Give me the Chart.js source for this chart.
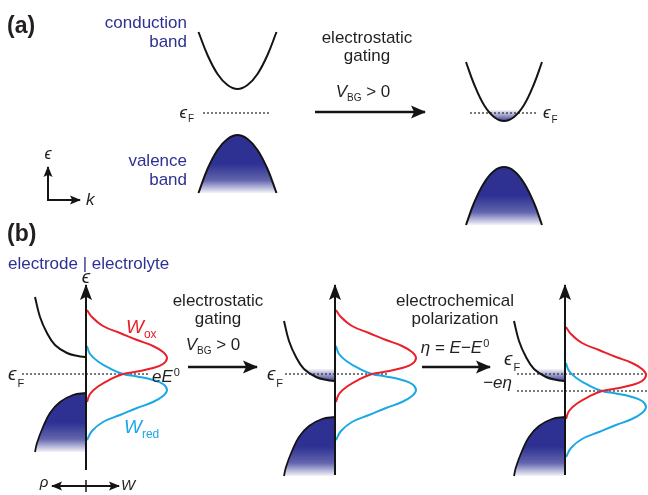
<!DOCTYPE html>
<html>
<head>
<meta charset="utf-8">
<style>
  html, body { margin: 0; padding: 0; background: #fff; }
  canvas { display: block; }
</style>
<script src="https://cdn.jsdelivr.net/npm/chart.js@4/dist/chart.umd.min.js"></script>
</head>
<body>
<canvas id="c" width="648" height="495"></canvas>
<script>
// ---------- Panel (a): band dispersions, energy measured from the Fermi level ----------
const kBand1 = [-3.9, -3, -2, -1, 0, 1, 2, 3, 3.9];
const cbUngated = [8.1, 5.8, 3.9, 2.8, 2.4, 2.8, 3.9, 5.8, 8.1];
const vbUngated = [-8.0, -5.6, -3.7, -2.6, -2.2, -2.6, -3.7, -5.6, -8.0];
const kBand2 = [-3.8, -3, -2, -1, 0, 1, 2, 3, 3.8];
const cbGated = [5.1, 2.9, 0.8, -0.4, -0.8, -0.4, 0.8, 2.9, 5.1];
const vbGated = [-11.2, -9.0, -7.0, -5.8, -5.4, -5.8, -7.0, -9.0, -11.2];
const kOccupied = [-1.65, -1.2, -0.6, 0, 0.6, 1.2, 1.65];
const cbOccupied = [0.3, -0.2, -0.65, -0.8, -0.65, -0.2, 0.3];
const kFermi1 = [-3.45, 3.35];
const kFermi2 = [-3.4, 3.3];

// ---------- Panel (b): electrode density of states (rho < 0) and redox distributions (W > 0) ----------
const rhoCB = [-5.1, -4.6, -3.9, -3.1, -1.9, -0.8, 0];
const cbEdgeOpen = [7.7, 5.7, 4.1, 2.9, 2.1, 1.8, 1.7];
const cbEdgeGated = [5.3, 3.3, 1.7, 0.5, -0.3, -0.6, -0.7];
const rhoVB = [0, -1.3, -2.6, -3.6, -4.3, -4.9, -5.1];
const vbEdgeOpen = [-1.9, -2.1, -2.8, -3.9, -5.3, -6.9, -7.8];
const vbEdgeGated = [-4.3, -4.5, -5.2, -6.3, -7.7, -9.3, -10.2];
const rhoFilled = [-3.1, -1.9, -0.8, 0];
const cbFilled = [0.5, -0.3, -0.6, -0.7];

const wOx = [0.1, 0.6, 1.7, 3.4, 5.1, 6.7, 7.7, 8.1, 7.7, 6.7, 5.1, 3.7, 2.4, 1.2, 0.4, 0.1];
const eOx = [6.4, 5.7, 4.8, 4.1, 3.4, 2.8, 2.2, 1.6, 1.0, 0.6, 0.25, 0, -0.55, -1.25, -2.0, -2.8];
const eOxPolarized = [4.7, 4.0, 3.1, 2.4, 1.7, 1.1, 0.5, -0.1, -0.7, -1.1, -1.45, -1.7, -2.25, -2.95, -3.7, -4.5];
const wRed = [0.1, 0.4, 1.2, 2.4, 3.7, 5.1, 6.7, 7.7, 8.1, 7.7, 6.7, 5.1, 3.4, 1.7, 0.6, 0.1];
const eRed = [2.8, 2.0, 1.25, 0.55, 0, -0.25, -0.6, -1.0, -1.6, -2.2, -2.8, -3.4, -4.1, -4.8, -5.7, -6.6];
const eRedPolarized = [1.1, 0.3, -0.45, -1.15, -1.7, -1.95, -2.3, -2.7, -3.3, -3.9, -4.5, -5.1, -5.8, -6.5, -7.4, -8.3];
const eFermiLine = [0, 0];
const eShiftedLine = [-1.7, -1.7];

// ---------- styling ----------
const NAVY = '#2e3192', RED = '#e8202a', BLUE = '#1ba7e6', INK = '#141414', TEXT = '#231f20';
const FONT = '"Liberation Sans", Arial, "DejaVu Sans", sans-serif';

const zip = (xs, ys) => xs.map((x, i) => ({ x, y: ys[i] }));

function vGradient(yId, top, bottom, stops) {
  return (c) => {
    const chart = c.chart, sc = chart.scales[yId];
    if (!chart.chartArea || !sc) return NAVY;
    const g = chart.ctx.createLinearGradient(0, sc.getPixelForValue(top), 0, sc.getPixelForValue(bottom));
    stops.forEach(([o, col]) => g.addColorStop(o, col));
    return g;
  };
}
const bandStops = [[0, NAVY], [0.5, NAVY], [0.78, 'rgba(46,49,146,0.75)'], [1, 'rgba(46,49,146,0.06)']];
const occStops = [[0, 'rgba(46,49,146,0.05)'], [1, 'rgba(46,49,146,0.9)']];

function line(xId, yId, xs, ys, extra) {
  return Object.assign({
    xAxisID: xId, yAxisID: yId, data: zip(xs, ys), showLine: true,
    pointRadius: 0, borderColor: INK, borderWidth: 2, tension: 0.4, fill: false, order: 1
  }, extra || {});
}
const dotted = { borderWidth: 1.3, borderDash: [2, 2], borderColor: '#333', tension: 0, order: 2 };
const axisLine = (heads, L, W, width) => ({ tension: 0, order: 0, heads, headLength: L, headWidth: W, borderWidth: width, borderJoinStyle: 'miter' });

const datasets = [
  // panel (a), before gating
  line('xa1', 'ya', kBand1, cbUngated),
  line('xa1', 'ya', kBand1, vbUngated, { fill: { value: -8.0 }, backgroundColor: vGradient('ya', -2.2, -8.0, bandStops) }),
  line('xa1', 'ya', kFermi1, eFermiLine, dotted),
  // panel (a), after gating
  line('xa2', 'ya', kOccupied, cbOccupied, { borderWidth: 0, fill: { value: 0.3 }, order: 3, backgroundColor: vGradient('ya', 0.3, -0.8, occStops) }),
  line('xa2', 'ya', kBand2, cbGated),
  line('xa2', 'ya', kBand2, vbGated, { fill: { value: -11.2 }, backgroundColor: vGradient('ya', -5.4, -11.2, bandStops) }),
  line('xa2', 'ya', kFermi2, eFermiLine, dotted),

  // panel (b), left: open circuit
  line('xb1', 'yb', rhoCB, cbEdgeOpen),
  line('xb1', 'yb', rhoVB, vbEdgeOpen, { borderWidth: 1.8, fill: { value: -7.8 }, backgroundColor: vGradient('yb', -1.9, -7.8, bandStops) }),
  line('xb1', 'yb', [-6.4, 6.2], eFermiLine, dotted),
  line('xb1', 'yb', wOx, eOx, { borderColor: RED }),
  line('xb1', 'yb', wRed, eRed, { borderColor: BLUE }),
  line('xb1', 'yb', [0, 0], [-9.6, 8.9], axisLine('end', 15, 12, 2)),

  // panel (b), middle: after electrostatic gating
  line('xb2', 'yb', rhoFilled, cbFilled, { borderWidth: 0, fill: { value: 0.5 }, order: 3, backgroundColor: vGradient('yb', 0.5, -0.7, occStops) }),
  line('xb2', 'yb', rhoCB, cbEdgeGated),
  line('xb2', 'yb', rhoVB, vbEdgeGated, { borderWidth: 1.8, fill: { value: -10.2 }, backgroundColor: vGradient('yb', -4.3, -10.2, bandStops) }),
  line('xb2', 'yb', [-5.0, 5.2], eFermiLine, dotted),
  line('xb2', 'yb', wOx, eOx, { borderColor: RED }),
  line('xb2', 'yb', wRed, eRed, { borderColor: BLUE }),
  line('xb2', 'yb', [0, 0], [-10.1, 8.9], axisLine('end', 15, 12, 2)),

  // panel (b), right: after electrochemical polarization
  line('xb3', 'yb', rhoFilled, cbFilled, { borderWidth: 0, fill: { value: 0.5 }, order: 3, backgroundColor: vGradient('yb', 0.5, -0.7, occStops) }),
  line('xb3', 'yb', rhoCB, cbEdgeGated),
  line('xb3', 'yb', rhoVB, vbEdgeGated, { borderWidth: 1.8, fill: { value: -10.2 }, backgroundColor: vGradient('yb', -4.3, -10.2, bandStops) }),
  line('xb3', 'yb', [-4.8, 8.3], eFermiLine, dotted),
  line('xb3', 'yb', [-4.8, 8.3], eShiftedLine, dotted),
  line('xb3', 'yb', wOx, eOxPolarized, { borderColor: RED }),
  line('xb3', 'yb', wRed, eRedPolarized, { borderColor: BLUE }),
  line('xb3', 'yb', [0, 0], [-10.1, 8.9], axisLine('end', 15, 12, 2)),

  // process arrows and small axis keys
  line('xp', 'yp', [315, 425], [112, 112], axisLine('end', 14, 13, 2.5)),
  line('xp', 'yp', [188, 257], [367, 367], axisLine('end', 14, 13, 2.5)),
  line('xp', 'yp', [422, 490], [367, 367], axisLine('end', 14, 13, 2.5)),
  line('xp', 'yp', [48, 48, 80], [167, 200, 200], axisLine('both', 10, 9, 2)),
  line('xp', 'yp', [52, 119], [486, 486], axisLine('both', 10, 9, 1.8)),
  line('xp', 'yp', [86, 86], [480, 492], axisLine(null, 0, 0, 1.5))
];

// ---------- text ----------
const EPS = '\u03F5';
const labels = [
  { x: 7, y: 33, segs: [{ t: '(a)', size: 23, bold: true }] },
  { x: 187, y: 28, align: 'right', segs: [{ t: 'conduction', color: NAVY }] },
  { x: 187, y: 47, align: 'right', segs: [{ t: 'band', color: NAVY }] },
  { x: 187, y: 166, align: 'right', segs: [{ t: 'valence', color: NAVY }] },
  { x: 187, y: 185, align: 'right', segs: [{ t: 'band', color: NAVY }] },
  { x: 194, y: 117.5, align: 'right', segs: [{ t: EPS, italic: true, size: 17 }, { t: 'F', size: 10, dy: 4.5, dx: 1 }] },
  { x: 543, y: 118, segs: [{ t: EPS, italic: true, size: 17 }, { t: 'F', size: 10, dy: 5, dx: 1 }] },
  { x: 48, y: 159, align: 'center', segs: [{ t: EPS, italic: true, size: 16 }] },
  { x: 86, y: 205, segs: [{ t: 'k', italic: true, size: 17 }] },
  { x: 367, y: 43, align: 'center', segs: [{ t: 'electrostatic' }] },
  { x: 367, y: 61, align: 'center', segs: [{ t: 'gating' }] },
  { x: 363, y: 97, align: 'center', segs: [{ t: 'V', italic: true }, { t: 'BG', size: 10, dy: 4 }, { t: ' > 0' }] },

  { x: 7, y: 241, segs: [{ t: '(b)', size: 23, bold: true }] },
  { x: 8, y: 269, segs: [{ t: 'electrode | electrolyte', color: NAVY }] },
  { x: 86, y: 283, align: 'center', segs: [{ t: EPS, italic: true, size: 19 }] },
  { x: 8, y: 380, segs: [{ t: EPS, italic: true, size: 19 }, { t: 'F', size: 11, dy: 7, dx: 1 }] },
  { x: 152, y: 382, segs: [{ t: 'eE', italic: true, size: 17 }, { t: '0', size: 11, dy: -6, dx: 1 }] },
  { x: 126, y: 333, segs: [{ t: 'W', italic: true, size: 19, color: RED }, { t: 'ox', size: 12, dy: 5, color: RED }] },
  { x: 124, y: 433, segs: [{ t: 'W', italic: true, size: 19, color: BLUE }, { t: 'red', size: 12, dy: 5, color: BLUE }] },
  { x: 218, y: 306, align: 'center', segs: [{ t: 'electrostatic' }] },
  { x: 218, y: 324, align: 'center', segs: [{ t: 'gating' }] },
  { x: 213, y: 350, align: 'center', segs: [{ t: 'V', italic: true }, { t: 'BG', size: 10, dy: 4 }, { t: ' > 0' }] },
  { x: 283, y: 380, align: 'right', segs: [{ t: EPS, italic: true, size: 19 }, { t: 'F', size: 11, dy: 7, dx: 1 }] },
  { x: 455, y: 306, align: 'center', segs: [{ t: 'electrochemical' }] },
  { x: 455, y: 324, align: 'center', segs: [{ t: 'polarization' }] },
  { x: 455, y: 353, align: 'center', segs: [{ t: '\u03B7', italic: true }, { t: ' = ' }, { t: 'E', italic: true }, { t: '\u2212' }, { t: 'E', italic: true }, { t: '0', size: 11, dy: -6, dx: 1 }] },
  { x: 504, y: 365, segs: [{ t: EPS, italic: true, size: 19 }, { t: 'F', size: 11, dy: 6, dx: 1 }] },
  { x: 512, y: 388, align: 'right', segs: [{ t: '\u2212' }, { t: 'e\u03B7', italic: true }] },
  { x: 44, y: 487, align: 'center', segs: [{ t: '\u03C1', italic: true, size: 15 }] },
  { x: 121, y: 490, segs: [{ t: 'W', italic: true, size: 15 }] }
];

const fontOf = (s) => `${s.italic ? 'italic ' : ''}${s.bold ? 'bold ' : ''}${s.size || 17}px ${FONT}`;

const textPlugin = {
  id: 'diagramText',
  afterDraw(chart) {
    const ctx = chart.ctx;
    ctx.save();
    ctx.textBaseline = 'alphabetic';
    ctx.textAlign = 'left';
    labels.forEach((lb) => {
      const widths = lb.segs.map((s) => { ctx.font = fontOf(s); return ctx.measureText(s.t).width + (s.dx || 0); });
      const total = widths.reduce((a, b) => a + b, 0);
      let cx = lb.align === 'center' ? lb.x - total / 2 : lb.align === 'right' ? lb.x - total : lb.x;
      lb.segs.forEach((s, i) => {
        ctx.font = fontOf(s);
        ctx.fillStyle = s.color || TEXT;
        ctx.fillText(s.t, cx + (s.dx || 0), lb.y + (s.dy || 0));
        cx += widths[i];
      });
    });
    ctx.restore();
  }
};

// filled arrowheads at the ends of flagged datasets
const arrowHeads = {
  id: 'arrowHeads',
  afterDatasetsDraw(chart) {
    const ctx = chart.ctx;
    chart.data.datasets.forEach((ds, i) => {
      if (!ds.heads) return;
      const el = chart.getDatasetMeta(i).data;
      const n = el.length;
      const head = (tip, from) => {
        const a = Math.atan2(tip.y - from.y, tip.x - from.x);
        const L = ds.headLength, H = ds.headWidth / 2;
        ctx.save();
        ctx.translate(tip.x, tip.y);
        ctx.rotate(a);
        ctx.beginPath();
        ctx.moveTo(1, 0);
        ctx.lineTo(-L, H);
        ctx.lineTo(-L * 0.78, 0);
        ctx.lineTo(-L, -H);
        ctx.closePath();
        ctx.fillStyle = ds.borderColor;
        ctx.fill();
        ctx.restore();
      };
      if (ds.heads === 'end' || ds.heads === 'both') head(el[n - 1], el[n - 2]);
      if (ds.heads === 'start' || ds.heads === 'both') head(el[0], el[1]);
    });
  }
};

const span = (axis, lo, hi, extra) => Object.assign({ type: 'linear', axis, display: false, min: lo, max: hi }, extra || {});

new Chart(document.getElementById('c'), {
  type: 'scatter',
  data: { datasets },
  options: {
    responsive: false,
    animation: false,
    events: [],
    devicePixelRatio: 1,
    layout: { padding: 0 },
    plugins: { legend: { display: false }, tooltip: { enabled: false } },
    scales: {
      xa1: span('x', -23.75, 41.05),
      xa2: span('x', -50.4, 14.4),
      xb1: span('x', -8.6, 56.2),
      xb2: span('x', -33.5, 31.3),
      xb3: span('x', -56.5, 8.3),
      xp: span('x', 0, 648),
      ya: span('y', -38.2, 11.3),
      yb: span('y', -12.1, 37.4),
      yp: span('y', 0, 495, { reverse: true })
    }
  },
  plugins: [arrowHeads, textPlugin]
});
</script>
</body>
</html>
